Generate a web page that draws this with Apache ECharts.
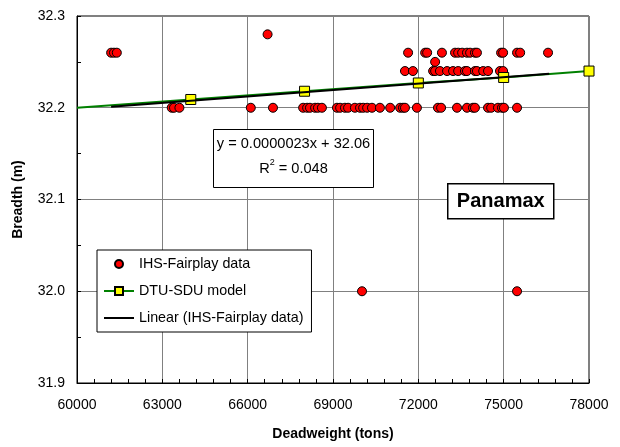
<!DOCTYPE html>
<html><head><meta charset="utf-8">
<script src="https://cdn.jsdelivr.net/npm/echarts@6/dist/echarts.min.js"></script>
<style>html,body{margin:0;padding:0;background:#fff}#c{width:620px;height:447px}</style>
</head><body><div id="c"></div>
<script>
// ---- data ----
const ihsBreadthLevels = [32.28, 32.26, 32.25, 32.24, 32.20, 32.00];
const ihsDeadweightByLevel = [
  [66700],
  [61200, 61300, 61400, 71640, 72240, 72310, 72830, 73290, 73400, 73540, 73710, 73820, 73990, 74060, 74910, 74980, 75470, 75580, 76560],
  [72590],
  [71530, 71810, 72520, 72590, 72760, 73010, 73220, 73400, 73640, 73710, 73990, 74060, 74280, 74450, 74870, 74980],
  [63330, 63410, 63600, 66110, 66890, 67950, 68090, 68190, 68370, 68470, 68610, 69140, 69250, 69420, 69530, 69770, 69950, 70060, 70200, 70370, 70650, 71010, 71360, 71460, 71530, 71950, 72690, 72800, 73360, 73710, 73920, 73990, 74450, 74560, 74800, 74940, 75010, 75470],
  [70020, 75470]
];
const modelDeadweight = [60000, 64000, 68000, 72000, 75000, 78000];
const modelBreadth = [32.200, 32.209, 32.218, 32.227, 32.233, 32.240];
const trendDeadweight = [61200, 76600];
const trendBreadth = [32.201, 32.237];
const seriesNames = ['IHS-Fairplay data', 'DTU-SDU model', 'Linear (IHS-Fairplay data)'];
const equationText = 'y = 0.0000023x + 32.06';
const r2Value = '0.048';
const panelLabel = 'Panamax';

// ---- build ----
const ihsData = [];
ihsBreadthLevels.forEach((b, i) => ihsDeadweightByLevel[i].forEach(x => ihsData.push([x, b])));
const modelData = modelDeadweight.map((x, i) => i === 0 ? { value: [x, modelBreadth[i]], symbol: 'none' } : [x, modelBreadth[i]]);
const trendData = trendDeadweight.map((x, i) => [x, trendBreadth[i]]);

const FONT = '"Liberation Sans", Arial, sans-serif';
const tickOnlyAxis = {
  type: 'value', show: true, splitLine: { show: false }, axisLabel: { show: false },
  axisLine: { show: false }, axisTick: { show: true, inside: true, length: 4, lineStyle: { color: '#000' } }
};
const chart = echarts.init(document.getElementById('c'));
chart.setOption({
  animation: false,
  backgroundColor: '#fff',
  textStyle: { fontFamily: FONT, color: '#000' },
  grid: { left: 77, right: 31, top: 16, bottom: 64, show: true, borderColor: '#000', borderWidth: 1, backgroundColor: 'transparent' },
  xAxis: [{
    type: 'value', min: 60000, max: 78000, interval: 3000,
    name: 'Deadweight (tons)', nameLocation: 'middle', nameGap: 44,
    nameTextStyle: { fontFamily: FONT, fontWeight: 'bold', fontSize: 14, color: '#000' },
    axisLine: { show: true, lineStyle: { color: '#000', width: 1 } },
    axisTick: { show: false },
    axisLabel: { fontFamily: FONT, fontSize: 14, color: '#000', margin: 15, formatter: v => String(v) },
    splitLine: { show: true, lineStyle: { color: '#808080', width: 1 } }
  }, Object.assign({}, tickOnlyAxis, { position: 'bottom', min: 60000, max: 78000, interval: 600 })],
  yAxis: [{
    type: 'value', min: 31.9, max: 32.3, interval: 0.1,
    name: 'Breadth (m)', nameLocation: 'middle', nameGap: 52,
    nameTextStyle: { fontFamily: FONT, fontWeight: 'bold', fontSize: 14, color: '#000' },
    axisLine: { show: true, lineStyle: { color: '#000', width: 1 } },
    axisTick: { show: false },
    axisLabel: { fontFamily: FONT, fontSize: 14, color: '#000', margin: 12, formatter: v => v.toFixed(1) },
    splitLine: { show: true, lineStyle: { color: '#808080', width: 1 } }
  }, Object.assign({}, tickOnlyAxis, { position: 'left', min: 31.9, max: 32.3, interval: 0.05 })],
  legend: {
    left: 97, top: 250, orient: 'vertical',
    data: [
      { name: seriesNames[0] },
      { name: seriesNames[1] },
      { name: seriesNames[2], itemStyle: { color: 'rgba(0,0,0,0)', borderWidth: 0, opacity: 0 } }
    ],
    backgroundColor: '#fff', borderColor: '#000', borderWidth: 1,
    padding: [6, 8, 6, 6],
    itemWidth: 30, itemHeight: 10, itemGap: 11,
    textStyle: { fontFamily: FONT, fontSize: 14.3, color: '#000', lineHeight: 16 }
  },
  series: [
    {
      name: seriesNames[0], type: 'line', showLine: false, data: ihsData,
      symbol: 'circle', symbolSize: 9,
      itemStyle: { color: '#ff0000', borderColor: '#000', borderWidth: 1 },
      lineStyle: { width: 0, opacity: 0 }, z: 3
    },
    {
      name: seriesNames[1], type: 'line', data: modelData,
      symbol: 'rect', symbolSize: 10,
      itemStyle: { color: '#ffff00', borderColor: '#000', borderWidth: 1 },
      lineStyle: { color: '#008000', width: 2 }, z: 4
    },
    {
      name: seriesNames[2], type: 'line', data: trendData,
      symbol: 'none',
      itemStyle: { color: '#000' },
      lineStyle: { color: '#000', width: 2 }, z: 5
    }
  ],
  graphic: [
    {
      type: 'group', left: 213, top: 129, z: 100,
      children: [
        { type: 'rect', z: 100, shape: { x: 0, y: 0, width: 160, height: 58 }, style: { fill: '#fff', stroke: '#000', lineWidth: 1 } },
        { type: 'text', z: 101, x: 80, y: 14, style: { text: equationText, font: '14.6px ' + FONT, fill: '#000', align: 'center', verticalAlign: 'middle' } },
        { type: 'text', z: 101, x: 80, y: 38, style: {
            text: '{a|R}{s|2}{a| = ' + r2Value + '}', align: 'center', verticalAlign: 'middle',
            rich: { a: { font: '14.6px ' + FONT, fill: '#000', verticalAlign: 'bottom', lineHeight: 18 },
                    s: { font: '9px ' + FONT, fill: '#000', verticalAlign: 'top', lineHeight: 18 } } } }
      ]
    },
    {
      type: 'group', left: 447, top: 183, z: 100,
      children: [
        { type: 'rect', z: 100, shape: { x: 0, y: 0, width: 106, height: 35 }, style: { fill: '#fff', stroke: '#000', lineWidth: 1.5 } },
        { type: 'text', z: 101, x: 53, y: 18, style: { text: panelLabel, font: 'bold 20px ' + FONT, fill: '#000', align: 'center', verticalAlign: 'middle' } }
      ]
    }
  ]
});
</script></body></html>
